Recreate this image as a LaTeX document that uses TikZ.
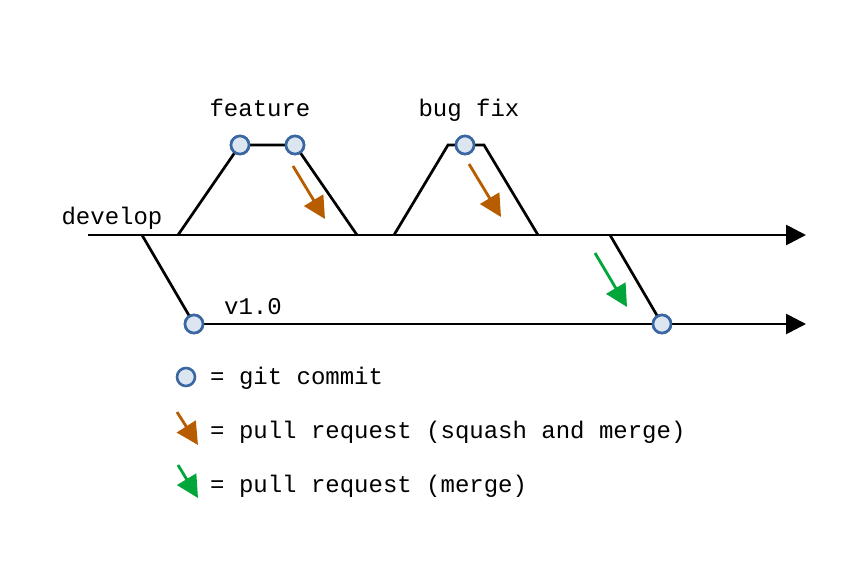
\documentclass[tikz,border=0pt]{standalone}
\usepackage{fontspec}
\setmonofont{Liberation Mono}
\usetikzlibrary{arrows.meta}
\definecolor{commitfill}{RGB}{220,230,241}
\definecolor{commitdraw}{RGB}{58,103,163}
\definecolor{squash}{RGB}{184,92,0}
\definecolor{merge}{RGB}{0,166,57}
\tikzset{
  commit/.style={draw=commitdraw, fill=commitfill, circle, line width=2.6pt, inner sep=0pt, minimum size=18pt},
  branch/.style={line width=2.7pt, black, line join=miter},
  trunk/.style={branch, -{Triangle[length=20pt, width=20pt]}},
  pr/.style={line width=2.8pt, -{Triangle[length=22pt, width=22pt]}},
  lbl/.style={font=\ttfamily\fontsize{24}{28}\selectfont, inner sep=0pt, anchor=base}
}
\begin{document}
\begin{tikzpicture}[x=1pt, y=-1pt]
    \useasboundingbox (0,0) rectangle (864,576);
    \coordinate (d0) at (88,235);
    \coordinate (d1) at (806,235);
    \coordinate (r1) at (806,324);
    \coordinate (b0) at (142,235);
    \coordinate (f0) at (178,235);
    \coordinate (f3) at (357,235);
    \coordinate (g0) at (394,235);
    \coordinate (g1) at (448,145);
    \coordinate (g2) at (484,145);
    \coordinate (g3) at (538,235);
    \coordinate (m0) at (610,235);
    \node[commit] (c1) at (194,324) {};
    \node[commit] (c2) at (240,145) {};
    \node[commit] (c3) at (295,145) {};
    \node[commit] (c4) at (465,145) {};
    \node[commit] (c5) at (662,324) {};

    \draw[trunk] (d0) -- (d1);
    \draw[trunk] (c1.center) -- (c5.center) -- (r1);
    \draw[branch] (b0) -- (c1.center);
    \draw[branch] (f0) -- (c2.center) -- (c3.center) -- (f3);
    \draw[branch] (g0) -- (g1) -- (g2) -- (g3);
    \draw[branch] (m0) -- (c5.center);
    \node[commit] at (c1) {};
    \node[commit] at (c2) {};
    \node[commit] at (c3) {};
    \node[commit] at (c4) {};
    \node[commit] at (c5) {};

    \node[lbl] (develop) at (112,224) {develop};
    \node[lbl] (feature) at (260,116) {feature};
    \node[lbl] (bugfix) at (469,116) {bug fix};
    \node[lbl] (v10) at (253,314) {v1.0};

    \coordinate (p1) at (293,166); \coordinate (q1) at (325,219);
    \coordinate (p2) at (469,164); \coordinate (q2) at (501,217);
    \coordinate (p3) at (595,253); \coordinate (q3) at (627,307);
    \draw[pr, squash] (p1) -- (q1);
    \draw[pr, squash] (p2) -- (q2);
    \draw[pr, merge] (p3) -- (q3);

    % legend
    \node[commit] (k1) at (186,377) {};
    \coordinate (p4) at (177,412); \coordinate (q4) at (198,445);
    \coordinate (p5) at (178,465); \coordinate (q5) at (198,498);
    \draw[pr, squash] (p4) -- (q4);
    \draw[pr, merge] (p5) -- (q5);
    \node[lbl, anchor=base west] (t1) at (210,384) {= git commit};
    \node[lbl, anchor=base west] (t2) at (210,438) {= pull request (squash and merge)};
    \node[lbl, anchor=base west] (t3) at (210,492) {= pull request (merge)};
\end{tikzpicture}
\end{document}
